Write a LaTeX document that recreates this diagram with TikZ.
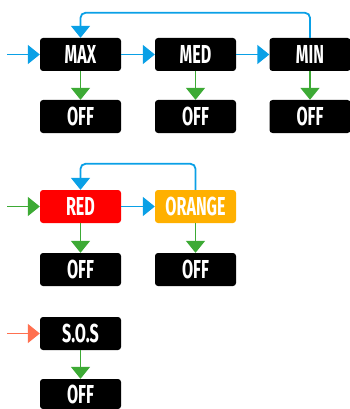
\documentclass[tikz,border=0pt]{standalone}
\usepackage{fontspec}
\newfontfamily\boxfont{Fira Sans}[FakeStretch=0.62]
\usetikzlibrary{arrows.meta,positioning}
\definecolor{modeblue}{RGB}{10,160,230}
\definecolor{offgreen}{RGB}{61,170,53}
\definecolor{sosred}{RGB}{255,112,80}
\definecolor{redbox}{RGB}{255,0,0}
\definecolor{orangebox}{RGB}{255,176,0}
\begin{document}
\begin{tikzpicture}[x=1pt,y=-1pt,
		mode/.style={fill=black,text=white,rounded corners=3pt,minimum width=81pt,minimum height=33pt,inner sep=0pt,font=\fontsize{26}{26}\boxfont\bfseries\selectfont},
		link/.style={line width=1.8pt,-{Triangle[length=12pt,width=19pt]}}]
			\useasboundingbox (0,0) rectangle (349,409);

			% torch
			\node[mode] (max) at (80.5,54.5) {MAX};
			\node[mode] (med) at (195.5,54.5) {MED};
			\node[mode] (min) at (310,54.5) {MIN};
			\node[mode] (maxoff) at (80.5,116.5) {OFF};
			\node[mode] (medoff) at (195.5,116.5) {OFF};
			\node[mode] (minoff) at (310,116.5) {OFF};
			\coordinate (in1) at (7,54.5);

			\draw[link,modeblue] (in1) -- (max);
			\draw[link,modeblue] (max) -- (med);
			\draw[link,modeblue] (med) -- (min);
			\draw[link,modeblue,rounded corners=5pt] (min.north) -- ++(0,-25) -| (max.north);
			\draw[link,offgreen] (max) -- (maxoff);
			\draw[link,offgreen] (med) -- (medoff);
			\draw[link,offgreen] (min) -- (minoff);

			% signal
			\node[mode,fill=redbox] (red) at (80.5,206.5) {RED};
			\node[mode,fill=orangebox] (orange) at (195.5,206.5) {ORANGE};
			\node[mode] (redoff) at (80.5,269.5) {OFF};
			\node[mode] (orangeoff) at (195.5,269.5) {OFF};
			\coordinate (in2) at (7,206.5);

			\draw[link,offgreen] (in2) -- (red);
			\draw[link,modeblue] (red) -- (orange);
			\draw[link,modeblue,rounded corners=5pt] (orange.north) -- ++(0,-26) -| (red.north);
			\draw[link,offgreen] (red) -- (redoff);
			\draw[link,offgreen] (orange) -- (orangeoff);

			% sos
			\node[mode] (sos) at (80.5,333.5) {S.O.S};
			\node[mode,minimum height=30pt] (sosoff) at (80.5,394) {OFF};
			\coordinate (in3) at (7,333.5);

			\draw[link,sosred] (in3) -- (sos);
			\draw[link,offgreen] (sos) -- (sosoff);
		\end{tikzpicture}
\end{document}
